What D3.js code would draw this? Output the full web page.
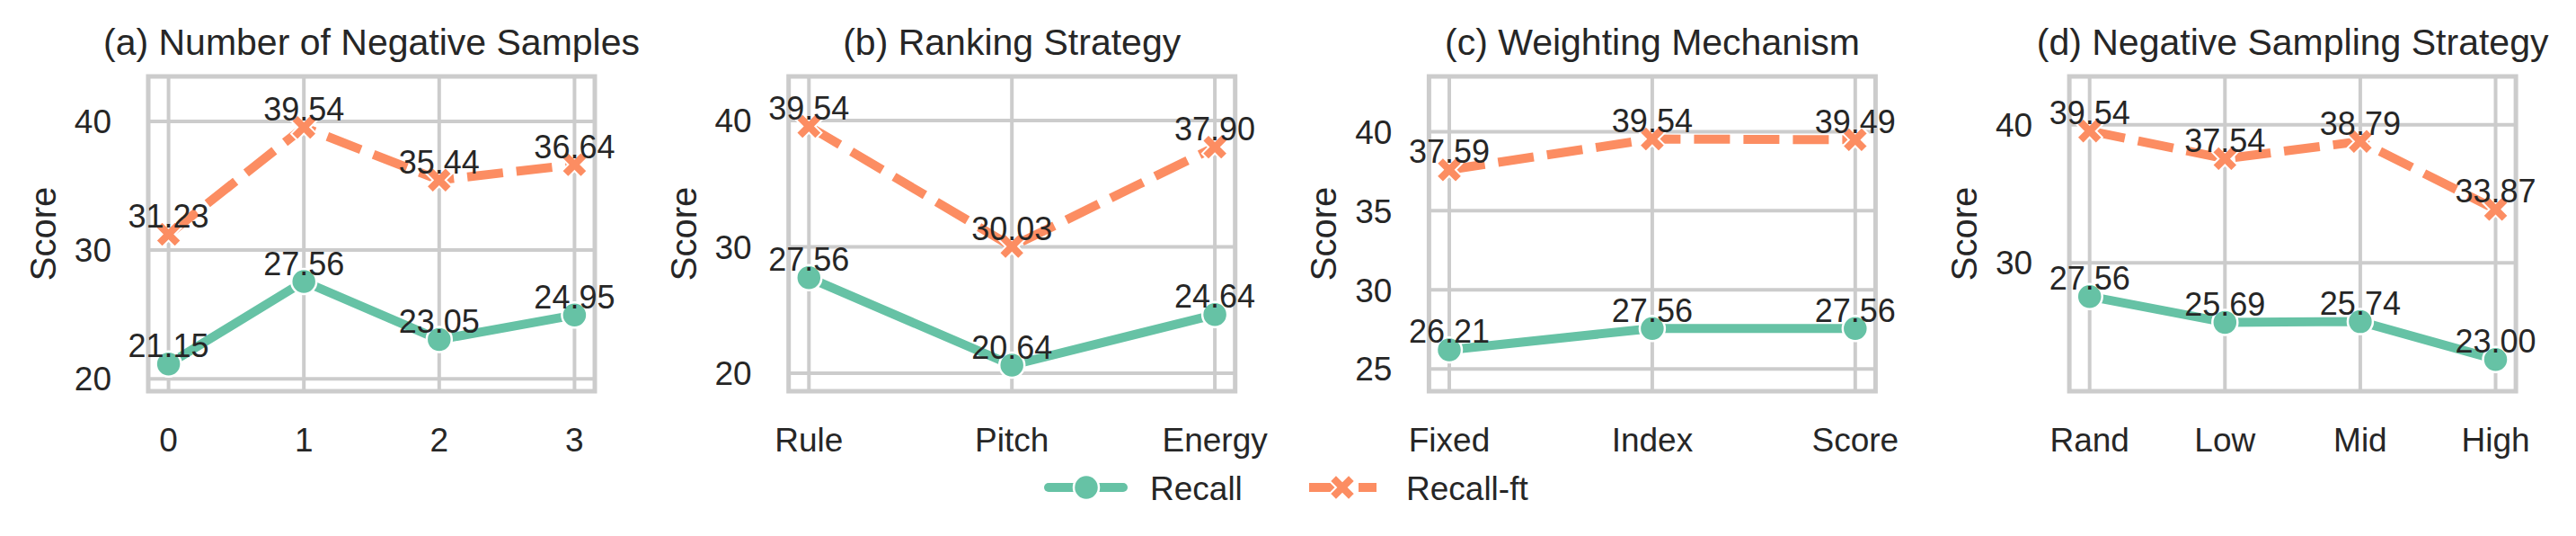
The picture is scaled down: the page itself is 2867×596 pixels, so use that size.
<!DOCTYPE html>
<html>
<head>
<meta charset="utf-8">
<script src="https://cdn.jsdelivr.net/npm/d3@7"></script>
<style>
  html, body { margin: 0; padding: 0; background: #fff; }
  text { font-family: "Liberation Sans", Arial, sans-serif; fill: #262626; }
</style>
</head>
<body>
<div id="chart"></div>
<script>
// ---- data ----
var seriesNames = ["Recall", "Recall-ft"];
var panelTitles = ["(a) Number of Negative Samples", "(b) Ranking Strategy",
                   "(c) Weighting Mechanism", "(d) Negative Sampling Strategy"];

var numNegCats     = ["0", "1", "2", "3"];
var numNegRecall   = [21.15, 27.56, 23.05, 24.95];
var numNegRecallFt = [31.23, 39.54, 35.44, 36.64];
var numNegTicks    = [20, 30, 40];

var rankCats     = ["Rule", "Pitch", "Energy"];
var rankRecall   = [27.56, 20.64, 24.64];
var rankRecallFt = [39.54, 30.03, 37.90];
var rankTicks    = [20, 30, 40];

var weightCats     = ["Fixed", "Index", "Score"];
var weightRecall   = [26.21, 27.56, 27.56];
var weightRecallFt = [37.59, 39.54, 39.49];
var weightTicks    = [25, 30, 35, 40];

var sampCats     = ["Rand", "Low", "Mid", "High"];
var sampRecall   = [27.56, 25.69, 25.74, 23.00];
var sampRecallFt = [39.54, 37.54, 38.79, 33.87];
var sampTicks    = [30, 40];

var panels = [
  {cats: numNegCats, recall: numNegRecall, ft: numNegRecallFt, ticks: numNegTicks},
  {cats: rankCats,   recall: rankRecall,   ft: rankRecallFt,   ticks: rankTicks},
  {cats: weightCats, recall: weightRecall, ft: weightRecallFt, ticks: weightTicks},
  {cats: sampCats,   recall: sampRecall,   ft: sampRecallFt,   ticks: sampTicks}
];

// ---- layout / style ----
var W = 2867, H = 596;
var frameTop = 85, frameBottom = 435, frameW = 497, firstLeft = 165, step = 712.7;
var green = "#66c2a5", orange = "#fc8d62", gridCol = "#cccccc";
var lw = 10;

var svg = d3.select("#chart").append("svg")
  .attr("width", W).attr("height", H);

var xSym = d3.symbol().type(d3.symbolCross).size(500);

panels.forEach(function(p, i){
  var left = firstLeft + i*step, right = left + frameW;
  var n = p.cats.length, m = 0.05*(n-1);
  var all = p.recall.concat(p.ft);
  var x = d3.scaleLinear().domain([-m, n-1+m]).range([left, right]);
  var y = d3.scaleLinear().domain([d3.min(all)*0.9, d3.max(all)*1.1]).range([frameBottom, frameTop]);

  var g = svg.append("g");

  //grid
  g.selectAll(".hg").data(p.ticks).enter().append("line")
    .attr("x1", left).attr("x2", right)
    .attr("y1", function(d){ return y(d); }).attr("y2", function(d){ return y(d); })
    .attr("stroke", gridCol).attr("stroke-width", 4);
  g.selectAll(".vg").data(p.cats).enter().append("line")
    .attr("x1", function(d,j){ return x(j); }).attr("x2", function(d,j){ return x(j); })
    .attr("y1", frameTop).attr("y2", frameBottom)
    .attr("stroke", gridCol).attr("stroke-width", 4);

  //tick labels
  g.selectAll(".yt").data(p.ticks).enter().append("text")
    .attr("x", left - 41).attr("y", function(d){ return y(d) + 0.358*37; })
    .attr("text-anchor", "end").attr("font-size", 37)
    .text(function(d){ return d; });
  g.selectAll(".xt").data(p.cats).enter().append("text")
    .attr("x", function(d,j){ return x(j); }).attr("y", 502)
    .attr("text-anchor", "middle").attr("font-size", 37)
    .text(function(d){ return d; });

  //axis label + title
  g.append("text")
    .attr("transform", "translate(" + (left - 103) + "," + ((frameTop+frameBottom)/2) + ") rotate(-90)")
    .attr("text-anchor", "middle").attr("font-size", 40).text("Score");
  g.append("text")
    .attr("x", (left+right)/2).attr("y", 61)
    .attr("text-anchor", "middle").attr("font-size", 41).text(panelTitles[i]);

  var line = d3.line().x(function(d,j){ return x(j); }).y(function(d){ return y(d); });

  g.append("path").datum(p.recall).attr("d", line)
    .attr("fill", "none").attr("stroke", green).attr("stroke-width", lw)
    .attr("stroke-linejoin", "round").attr("stroke-linecap", "round");
  g.selectAll(".c").data(p.recall).enter().append("circle")
    .attr("cx", function(d,j){ return x(j); }).attr("cy", function(d){ return y(d); })
    .attr("r", 14).attr("fill", green).attr("stroke", "#fff").attr("stroke-width", 2.5);

  g.append("path").datum(p.ft).attr("d", line)
    .attr("fill", "none").attr("stroke", orange).attr("stroke-width", lw)
    .attr("stroke-dasharray", "40,15");
  g.selectAll(".xm").data(p.ft).enter().append("path")
    .attr("d", xSym)
    .attr("transform", function(d,j){ return "translate(" + x(j) + "," + y(d) + ") rotate(45)"; })
    .attr("fill", orange).attr("stroke", "#fff").attr("stroke-width", 2);

  //frame
  g.append("rect").attr("x", left).attr("y", frameTop)
    .attr("width", frameW).attr("height", frameBottom - frameTop)
    .attr("fill", "none").attr("stroke", gridCol).attr("stroke-width", 5);

  //value labels
  var labs = p.recall.map(function(v,j){ return {j:j, v:v}; })
    .concat(p.ft.map(function(v,j){ return {j:j, v:v}; }));
  g.selectAll(".lab").data(labs).enter().append("text")
    .attr("x", function(d){ return x(d.j); })
    .attr("y", function(d){ return y(d.v) - 7.5; })
    .attr("text-anchor", "middle").attr("font-size", 36)
    .text(function(d){ return d.v.toFixed(2); });
});

// ---- legend ----
var leg = svg.append("g");
var legY = 542;
leg.append("line").attr("x1", 1167).attr("x2", 1250).attr("y1", legY).attr("y2", legY)
  .attr("stroke", green).attr("stroke-width", lw).attr("stroke-linecap", "round");
leg.append("circle").attr("cx", 1209).attr("cy", legY).attr("r", 14)
  .attr("fill", green).attr("stroke", "#fff").attr("stroke-width", 2.5);
leg.append("text").attr("x", 1280).attr("y", 556).attr("font-size", 37).text(seriesNames[0]);

leg.append("line").attr("x1", 1457).attr("x2", 1532).attr("y1", legY).attr("y2", legY)
  .attr("stroke", orange).attr("stroke-width", lw).attr("stroke-dasharray", "40,15");
leg.append("path").attr("d", xSym)
  .attr("transform", "translate(1494," + legY + ") rotate(45)")
  .attr("fill", orange).attr("stroke", "#fff").attr("stroke-width", 2);
leg.append("text").attr("x", 1565).attr("y", 556).attr("font-size", 37).text(seriesNames[1]);
</script>
</body>
</html>
